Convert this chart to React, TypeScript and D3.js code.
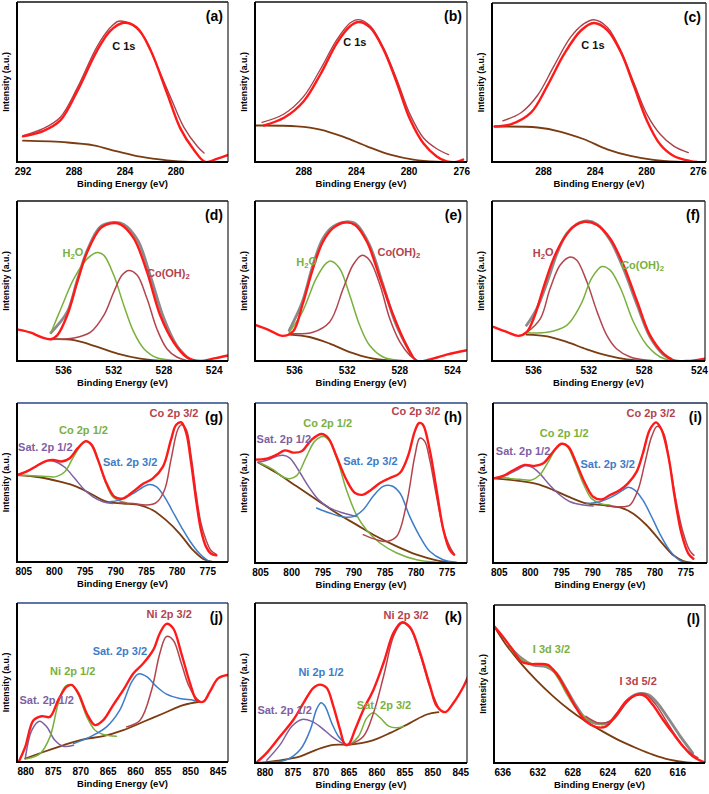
import * as d3 from "d3"

type Pt = [number, number]

// ---- data: [binding energy (eV), intensity as fraction of the plot height] ----

// (a) C 1s
const aFit: Pt[] = [[292.0,0.16],[290.38,0.195],[289.07,0.26],[287.76,0.44],[286.2,0.695],[285.15,0.82],[284.1,0.87],[283.06,0.84],[282.0,0.70],[280.7,0.43],[279.66,0.21],[278.6,0.077],[277.7,0.0],[276.8,0.02],[275.9,0.045]]
const aRaw: Pt[] = [[292.0,0.165],[290.38,0.21],[289.07,0.28],[287.76,0.46],[286.2,0.72],[285.15,0.84],[284.5,0.88],[283.6,0.865],[282.5,0.78],[281.5,0.605],[280.4,0.40],[279.4,0.22],[278.35,0.10],[277.8,0.056]]
const aBg: Pt[] = [[292.0,0.133],[288.5,0.122],[286.46,0.104],[284.6,0.066],[282.8,0.033],[280.7,0.01],[278.9,0.0],[277.8,0.0]]

// (b) C 1s
const bFit: Pt[] = [[291.03,0.228],[289.5,0.276],[288.0,0.38],[286.74,0.547],[285.47,0.745],[284.46,0.85],[283.83,0.875],[282.95,0.84],[281.94,0.703],[280.93,0.495],[279.92,0.265],[278.9,0.115],[277.9,0.035],[277.14,0.004],[276.4,0.0],[275.9,0.015]]
const bRaw: Pt[] = [[291.16,0.248],[289.5,0.30],[288.0,0.41],[286.74,0.578],[285.47,0.766],[284.46,0.87],[283.83,0.89],[282.95,0.85],[281.94,0.714],[280.93,0.516],[279.92,0.296],[278.9,0.15],[277.9,0.083],[277.0,0.046]]
const bBg: Pt[] = [[291.66,0.228],[288.5,0.223],[286.74,0.203],[284.97,0.157],[283.2,0.098],[281.43,0.046],[279.67,0.015],[277.9,0.002],[275.88,0.0]]

// (c) C 1s
const cFit: Pt[] = [[291.8,0.223],[290.5,0.238],[288.98,0.31],[287.7,0.48],[286.4,0.68],[285.1,0.827],[284.1,0.874],[283.06,0.83],[282.0,0.69],[281.0,0.48],[279.98,0.26],[278.95,0.11],[277.9,0.038],[276.6,0.006],[276.1,0.0]]
const cRaw: Pt[] = [[291.16,0.259],[289.75,0.31],[288.46,0.42],[287.18,0.606],[285.9,0.785],[284.86,0.87],[284.1,0.895],[283.06,0.848],[282.0,0.70],[281.0,0.50],[279.98,0.30],[278.95,0.175],[277.9,0.10],[276.77,0.059]]
const cBg: Pt[] = [[291.8,0.223],[288.46,0.217],[286.66,0.19],[284.86,0.143],[283.06,0.08],[281.26,0.038],[279.47,0.013],[277.67,0.002],[276.1,0.0]]

// (d) O 1s
const dFit: Pt[] = [[539.6,0.196],[538.6,0.177],[537.8,0.15],[537.0,0.136],[536.5,0.16],[535.7,0.286],[534.9,0.495],[534.1,0.683],[533.05,0.83],[532.25,0.86],[531.46,0.854],[530.4,0.766],[529.35,0.557],[528.3,0.286],[527.24,0.119],[526.2,0.025],[525.1,0.0],[524.1,0.015],[522.9,0.035]]
const dRaw: Pt[] = [[537.0,0.177],[535.7,0.307],[534.9,0.505],[534.1,0.693],[533.05,0.84],[532.0,0.866],[531.2,0.854],[530.1,0.756],[529.1,0.537],[528.0,0.265],[527.0,0.098],[526.05,0.015]]
const dH2O: Pt[] = [[537.0,0.177],[536.2,0.328],[535.16,0.516],[534.1,0.64],[533.3,0.678],[532.78,0.66],[532.0,0.537],[531.2,0.349],[530.4,0.18],[529.6,0.077],[528.56,0.02],[527.24,0.004],[526.2,0.0]]
const dCo: Pt[] = [[537.0,0.136],[535.16,0.144],[533.84,0.18],[532.78,0.286],[532.0,0.43],[531.33,0.537],[530.8,0.566],[530.14,0.537],[529.35,0.39],[528.56,0.2],[527.77,0.077],[526.98,0.025],[526.2,0.004]]
const dBg: Pt[] = [[537.0,0.136],[535.16,0.13],[533.3,0.088],[531.7,0.046],[529.9,0.015],[527.77,0.0],[526.2,0.0]]

// (e) O 1s
const eFit: Pt[] = [[539.05,0.228],[537.9,0.192],[536.9,0.157],[536.1,0.186],[535.4,0.35],[534.6,0.578],[533.84,0.745],[533.08,0.83],[532.2,0.866],[531.4,0.85],[530.5,0.745],[529.5,0.516],[528.5,0.286],[527.5,0.098],[526.7,0.0],[525.7,0.01],[524.45,0.04],[522.9,0.067]]
const eRaw: Pt[] = [[536.4,0.192],[535.4,0.37],[534.6,0.6],[533.84,0.766],[533.08,0.84],[532.06,0.87],[531.3,0.854],[530.3,0.724],[529.27,0.474],[528.26,0.223],[527.1,0.035]]
const eH2O: Pt[] = [[536.4,0.18],[535.4,0.307],[534.35,0.516],[533.6,0.61],[533.2,0.624],[532.57,0.578],[531.8,0.41],[531.05,0.223],[530.3,0.098],[529.27,0.025],[528.0,0.004],[527.1,0.0]]
const eCo: Pt[] = [[536.4,0.171],[534.6,0.18],[533.33,0.244],[532.3,0.453],[531.56,0.6],[530.9,0.66],[530.3,0.63],[529.5,0.474],[528.77,0.265],[528.0,0.119],[527.24,0.035],[526.7,0.004]]
const eBg: Pt[] = [[536.4,0.165],[534.86,0.15],[533.33,0.109],[531.8,0.056],[530.3,0.02],[528.77,0.004],[527.1,0.0]]

// (f) O 1s
const fFit: Pt[] = [[538.9,0.213],[537.9,0.18],[537.1,0.157],[536.5,0.18],[535.9,0.286],[535.3,0.453],[534.55,0.64],[533.8,0.766],[533.1,0.84],[532.3,0.87],[531.4,0.85],[530.46,0.766],[529.5,0.6],[528.5,0.37],[527.57,0.16],[526.6,0.046],[525.9,0.006],[524.9,0.0],[523.6,0.015]]
const fRaw: Pt[] = [[536.5,0.223],[535.76,0.328],[535.0,0.495],[534.3,0.672],[533.6,0.797],[532.9,0.854],[532.1,0.875],[531.4,0.854],[530.46,0.756],[529.5,0.578],[528.5,0.349],[527.57,0.15],[526.6,0.04],[526.1,0.015]]
const fH2O: Pt[] = [[536.5,0.177],[535.5,0.265],[534.8,0.453],[534.07,0.6],[533.35,0.65],[532.87,0.63],[532.14,0.495],[531.4,0.307],[530.7,0.16],[530.0,0.077],[529.0,0.025],[527.8,0.004],[526.4,0.0]]
const fCo: Pt[] = [[536.5,0.177],[535.0,0.18],[533.6,0.223],[532.6,0.349],[531.8,0.516],[531.06,0.59],[530.46,0.568],[529.7,0.453],[528.77,0.244],[527.8,0.098],[526.84,0.025],[526.1,0.004]]
const fBg: Pt[] = [[536.5,0.165],[535.0,0.154],[533.6,0.119],[532.14,0.073],[530.7,0.035],[529.25,0.01],[527.8,0.002],[526.4,0.0]]

// (g) Co 2p
const gFit: Pt[] = [[806.1,0.547],[804.57,0.568],[802.9,0.604],[801.3,0.636],[800.2,0.642],[798.87,0.632],[797.5,0.653],[796.2,0.716],[794.9,0.76],[794.0,0.74],[792.9,0.642],[791.5,0.495],[790.2,0.41],[788.8,0.40],[787.2,0.442],[785.6,0.49],[783.95,0.526],[782.3,0.6],[781.0,0.768],[780.15,0.863],[779.3,0.878],[778.5,0.81],[777.7,0.62],[776.9,0.39],[776.1,0.2],[775.27,0.095],[774.5,0.053],[773.6,0.042]]
const gSat1: Pt[] = [[806.1,0.547],[804.0,0.579],[802.4,0.617],[801.0,0.636],[799.95,0.632],[798.3,0.596],[796.7,0.526],[795.07,0.453],[793.7,0.41],[792.1,0.379],[790.5,0.368]]
const gCo1: Pt[] = [[805.65,0.547],[801.85,0.54],[799.7,0.537],[798.3,0.568],[797.0,0.653],[795.6,0.737],[794.8,0.758],[793.7,0.726],[792.6,0.61],[791.5,0.484],[790.5,0.41],[789.4,0.385],[788.3,0.373]]
const gSat3: Pt[] = [[791.0,0.379],[789.4,0.389],[787.2,0.43],[785.6,0.47],[784.5,0.488],[783.4,0.474],[782.05,0.41],[780.7,0.316],[779.3,0.22],[778.0,0.137],[776.35,0.053],[774.7,0.0]]
const gCo3: Pt[] = [[789.4,0.373],[787.2,0.368],[785.0,0.358],[783.4,0.373],[782.05,0.453],[781.0,0.642],[779.9,0.832],[779.3,0.863],[778.5,0.832],[777.7,0.663],[776.9,0.43],[776.1,0.242],[775.27,0.137],[774.5,0.074],[773.6,0.048]]
const gBg: Pt[] = [[806.1,0.547],[802.4,0.533],[799.1,0.505],[796.4,0.474],[793.7,0.421],[791.5,0.379],[788.8,0.368],[786.1,0.358],[783.95,0.326],[781.8,0.263],[779.6,0.179],[777.4,0.074],[775.8,0.021],[774.2,0.0]]

// (h) Co 2p
const hFit: Pt[] = [[805.9,0.646],[804.0,0.652],[802.4,0.677],[801.1,0.704],[799.75,0.69],[798.4,0.698],[796.8,0.77],[795.2,0.806],[794.1,0.78],[792.8,0.667],[791.2,0.52],[789.8,0.4375],[788.5,0.427],[787.2,0.458],[785.8,0.5],[784.2,0.531],[782.6,0.5625],[781.3,0.667],[780.2,0.823],[779.5,0.875],[778.9,0.865],[777.8,0.708],[776.7,0.458],[775.6,0.208],[774.6,0.083],[773.9,0.052]]
const hSat1: Pt[] = [[805.4,0.629],[804.0,0.642],[802.4,0.667],[801.4,0.673],[800.3,0.656],[798.95,0.583],[797.3,0.479],[795.7,0.396],[793.9,0.344],[791.7,0.3125],[789.6,0.29]]
const hCo1: Pt[] = [[805.1,0.625],[802.96,0.583],[801.4,0.5375],[800.3,0.527],[799.2,0.546],[797.6,0.667],[796.3,0.76],[794.9,0.79],[793.9,0.76],[792.5,0.625],[791.2,0.458],[789.6,0.302],[788.0,0.208],[785.8,0.125],[783.1,0.0625],[779.9,0.02],[776.7,0.004]]
const hSat3: Pt[] = [[796.0,0.344],[793.9,0.3125],[791.7,0.2875],[790.1,0.29],[788.5,0.333],[786.9,0.417],[785.3,0.479],[783.95,0.483],[782.6,0.4375],[781.0,0.29],[779.4,0.167],[777.8,0.073],[775.65,0.02],[773.5,0.004]]
const hCo3: Pt[] = [[788.5,0.177],[786.4,0.146],[784.75,0.135],[783.1,0.167],[781.5,0.375],[780.2,0.667],[779.4,0.78],[778.6,0.76],[777.8,0.646],[776.7,0.417],[775.6,0.208],[774.6,0.104],[773.8,0.052]]
const hBg: Pt[] = [[805.4,0.629],[802.4,0.5625],[799.2,0.479],[796.0,0.396],[792.8,0.3125],[789.6,0.24],[786.4,0.167],[783.1,0.104],[779.9,0.052],[776.7,0.017],[773.5,0.0]]

// (i) Co 2p
const iFit: Pt[] = [[805.96,0.529],[804.36,0.544],[802.75,0.58],[800.9,0.613],[799.3,0.607],[797.9,0.623],[796.3,0.697],[795.0,0.745],[793.9,0.728],[792.6,0.623],[791.2,0.498],[789.9,0.414],[788.55,0.397],[787.2,0.425],[785.6,0.456],[784.3,0.498],[782.9,0.571],[781.9,0.686],[780.8,0.833],[779.8,0.879],[778.9,0.833],[777.8,0.665],[776.8,0.414],[775.7,0.184],[774.6,0.059],[773.8,0.027]]
const iSat1: Pt[] = [[805.96,0.529],[803.8,0.55],[802.2,0.58],[800.9,0.607],[799.8,0.6],[798.5,0.56],[796.9,0.487],[795.25,0.425],[793.6,0.383],[791.5,0.362],[789.9,0.356]]
const iCo1: Pt[] = [[804.9,0.536],[801.7,0.523],[799.8,0.519],[798.5,0.55],[797.1,0.634],[795.8,0.718],[794.8,0.745],[793.9,0.718],[792.8,0.623],[791.5,0.498],[790.2,0.404],[788.8,0.372],[787.2,0.362]]
const iSat3: Pt[] = [[791.0,0.372],[788.8,0.383],[786.7,0.418],[785.1,0.456],[784.3,0.473],[783.2,0.456],[781.9,0.393],[780.5,0.289],[779.2,0.184],[777.6,0.079],[776.0,0.017],[774.4,0.0]]
const iCo3: Pt[] = [[787.75,0.356],[785.6,0.351],[784.0,0.362],[782.7,0.456],[781.6,0.623],[780.5,0.79],[779.6,0.854],[778.6,0.812],[777.6,0.623],[776.5,0.372],[775.4,0.184],[774.4,0.079],[773.7,0.048]]
const iBg: Pt[] = [[805.96,0.529],[802.2,0.515],[799.0,0.494],[796.3,0.456],[793.6,0.41],[791.0,0.372],[788.3,0.362],[785.6,0.347],[783.5,0.31],[781.3,0.236],[779.2,0.142],[777.0,0.048],[775.4,0.0126],[773.8,0.0]]

// (j) Ni 2p
const jFit: Pt[] = [[881.3,0.0],[880.1,0.095],[878.6,0.263],[877.1,0.288],[875.6,0.284],[874.1,0.389],[872.55,0.474],[871.6,0.484],[870.4,0.43],[868.9,0.305],[867.4,0.232],[865.9,0.263],[864.1,0.358],[862.25,0.453],[860.4,0.558],[858.6,0.621],[856.8,0.705],[855.6,0.81],[854.4,0.869],[853.2,0.842],[851.7,0.684],[850.1,0.495],[848.9,0.389],[847.7,0.379],[846.5,0.442],[845.0,0.526],[843.3,0.547]]
const jSat1: Pt[] = [[880.1,0.021],[878.9,0.2],[877.5,0.257],[876.2,0.221],[874.7,0.137],[873.2,0.099],[871.3,0.105]]
const jNi1: Pt[] = [[879.8,0.021],[877.4,0.053],[875.6,0.158],[874.1,0.368],[872.85,0.474],[871.6,0.484],[870.4,0.421],[868.9,0.284],[867.4,0.2],[865.9,0.173],[863.5,0.162]]
const jSat3: Pt[] = [[871.3,0.116],[868.3,0.158],[865.3,0.221],[862.9,0.326],[860.7,0.505],[859.5,0.554],[858.0,0.537],[856.2,0.474],[854.4,0.427],[852.0,0.4],[849.5,0.389],[848.3,0.379]]
const jNi3: Pt[] = [[861.65,0.221],[859.2,0.263],[857.1,0.453],[855.6,0.684],[854.4,0.789],[853.2,0.768],[851.7,0.621],[850.4,0.484],[849.2,0.41],[848.3,0.379]]
const jBg: Pt[] = [[880.1,0.021],[876.8,0.063],[873.2,0.105],[869.5,0.143],[865.9,0.162],[862.25,0.2],[858.6,0.253],[855.0,0.305],[851.35,0.358],[848.3,0.379]]

// (k) Ni 2p
const kFit: Pt[] = [[881.5,0.004],[879.7,0.063],[877.3,0.167],[874.9,0.272],[873.1,0.377],[871.35,0.47],[870.2,0.49],[869.0,0.47],[867.8,0.356],[866.6,0.209],[865.7,0.115],[865.1,0.115],[863.9,0.209],[862.4,0.335],[860.6,0.46],[858.8,0.628],[857.0,0.816],[855.55,0.879],[854.05,0.847],[852.3,0.69],[850.5,0.48],[849.3,0.356],[847.8,0.318],[846.3,0.377],[844.5,0.48],[843.8,0.533]]
const kSat1: Pt[] = [[879.7,0.017],[877.3,0.115],[875.2,0.23],[873.4,0.272],[871.65,0.26],[869.9,0.22],[868.1,0.167],[866.3,0.126],[865.4,0.115]]
const kNi1: Pt[] = [[879.1,0.004],[876.1,0.021],[873.7,0.084],[871.9,0.209],[870.8,0.335],[870.0,0.377],[869.3,0.356],[868.1,0.251],[866.9,0.167],[865.7,0.121]]
const kSat3: Pt[] = [[864.8,0.115],[863.3,0.167],[861.8,0.282],[860.7,0.314],[859.4,0.282],[857.9,0.23],[856.45,0.22],[855.25,0.23]]
const kNi3: Pt[] = [[864.8,0.115],[862.4,0.167],[860.6,0.314],[858.8,0.544],[857.0,0.795],[855.55,0.874],[854.05,0.841],[852.3,0.68],[850.5,0.47],[849.0,0.345]]
const kBg: Pt[] = [[881.5,0.0],[877.3,0.017],[873.7,0.042],[870.75,0.084],[867.8,0.113],[864.8,0.115],[861.2,0.136],[857.6,0.188],[854.05,0.251],[851.1,0.303],[849.0,0.318]]

// (l) I 3d
const lFit: Pt[] = [[636.95,0.863],[636.0,0.8],[634.86,0.716],[633.9,0.642],[632.95,0.627],[631.8,0.627],[630.86,0.621],[629.9,0.568],[628.76,0.463],[627.6,0.347],[626.5,0.263],[625.3,0.227],[624.2,0.232],[623.05,0.305],[621.9,0.39],[620.76,0.43],[619.8,0.425],[618.86,0.368],[617.7,0.274],[616.57,0.189],[615.4,0.105],[614.3,0.042],[612.95,0.004]]
const lRaw: Pt[] = [[635.24,0.737],[634.1,0.674],[632.6,0.621],[631.05,0.61],[629.9,0.57],[628.76,0.47],[627.6,0.36],[626.5,0.28],[625.0,0.248],[623.8,0.26],[622.7,0.33],[621.5,0.41],[620.3,0.44],[619.3,0.43],[618.2,0.37],[617.0,0.275],[615.8,0.175],[614.3,0.063]]
const lI3: Pt[] = [[635.24,0.733],[634.1,0.663],[632.95,0.632],[631.6,0.621],[630.7,0.606],[629.7,0.537],[628.76,0.442],[627.8,0.358],[626.86,0.3],[625.7,0.263],[624.6,0.242]]
const lI5: Pt[] = [[626.5,0.295],[625.0,0.253],[623.4,0.274],[621.9,0.379],[620.76,0.432],[619.8,0.438],[618.5,0.368],[617.3,0.263],[616.2,0.168],[615.0,0.084],[613.7,0.032]]
const lBg: Pt[] = [[636.95,0.863],[635.6,0.747],[634.1,0.642],[632.2,0.526],[630.3,0.425],[628.4,0.337],[626.5,0.263],[624.6,0.2],[622.7,0.143],[620.76,0.095],[618.86,0.053],[616.95,0.021],[615.0,0.004],[613.1,0.0]]

// tick labels
const ticksA = [292, 288, 284, 280]
const ticksBC = [288, 284, 280, 276]
const ticksO = [536, 532, 528, 524]
const ticksCo = [805, 800, 795, 790, 785, 780, 775]
const ticksNi = [880, 875, 870, 865, 860, 855, 850, 845]
const ticksI = [636, 632, 628, 624, 620, 616]

// ---- styling ----
const FONT = "'Liberation Sans', Arial, Helvetica, sans-serif"
const RED = "#ff1a1a"
const RAWRED = "#a8434b"
const GREY = "#8a8a8a"
const BROWN = "#7a3c10"
const GREEN = "#7ab03e"
const DRED = "#b3444d"
const PURPLE = "#7e60a2"
const BLUE = "#3d7cc8"
const NAVY = "#27488a"

type Curve = { data: Pt[]; color: string; width: number }
type Label = { text: string; at: Pt; color: string }
type PanelDef = {
  letter: string
  box: [number, number, number, number]
  domain: [number, number]
  ticks: number[]
  curves: Curve[]
  labels: Label[]
  top?: string
}

const fit = (data: Pt[]): Curve => ({ data, color: RED, width: 2.4 })
const raw = (data: Pt[]): Curve => ({ data, color: GREY, width: 2.8 })
const rawRed = (data: Pt[]): Curve => ({ data, color: RAWRED, width: 1.4 })
const bg = (data: Pt[]): Curve => ({ data, color: BROWN, width: 1.8 })
const comp = (data: Pt[], color: string): Curve => ({ data, color, width: 1.5 })

const panels: PanelDef[] = [
  { letter: "a", box: [17, 2, 228, 162], domain: [292.47, 275.92], ticks: ticksA,
    curves: [bg(aBg), rawRed(aRaw), fit(aFit)],
    labels: [{ text: "C 1s", at: [285.0, 0.703], color: "#111" }] },
  { letter: "b", box: [255, 2, 467, 162], domain: [291.7, 275.6], ticks: ticksBC,
    curves: [bg(bBg), rawRed(bRaw), fit(bFit)],
    labels: [{ text: "C 1s", at: [285.0, 0.724], color: "#111" }] },
  { letter: "c", box: [492, 3, 706, 162], domain: [292.0, 275.4], ticks: ticksBC,
    curves: [bg(cBg), rawRed(cRaw), fit(cFit)],
    labels: [{ text: "C 1s", at: [285.07, 0.71], color: "#111" }] },
  { letter: "d", box: [17, 201, 228, 361], domain: [539.7, 522.9], ticks: ticksO,
    curves: [raw(dRaw), bg(dBg), comp(dH2O, GREEN), comp(dCo, DRED), fit(dFit)],
    labels: [{ text: "H_2O", at: [536.08, 0.651], color: GREEN }, { text: "Co(OH)_2", at: [529.35, 0.526], color: DRED }] },
  { letter: "e", box: [255, 201, 467, 361], domain: [539.0, 522.9], ticks: ticksO,
    curves: [raw(eRaw), bg(eBg), comp(eH2O, GREEN), comp(eCo, DRED), fit(eFit)],
    labels: [{ text: "H_2O", at: [535.87, 0.595], color: GREEN }, { text: "Co(OH)_2", at: [529.7, 0.656], color: DRED }] },
  { letter: "f", box: [492, 201, 705, 361], domain: [539.0, 523.6], ticks: ticksO,
    curves: [raw(fRaw), bg(fBg), comp(fH2O, DRED), comp(fCo, GREEN), fit(fFit)],
    labels: [{ text: "H_2O", at: [536.05, 0.651], color: DRED }, { text: "Co(OH)_2", at: [529.66, 0.578], color: GREEN }] },
  { letter: "g", box: [17, 403, 228, 562], domain: [806.1, 771.7], ticks: ticksCo, top: NAVY,
    curves: [bg(gBg), comp(gSat1, PURPLE), comp(gCo1, GREEN), comp(gSat3, BLUE), comp(gCo3, DRED), fit(gFit)],
    labels: [
      { text: "Sat. 2p 1/2", at: [805.92, 0.695], color: PURPLE },
      { text: "Co 2p 1/2", at: [799.25, 0.804], color: GREEN },
      { text: "Sat. 2p 3/2", at: [792.09, 0.604], color: BLUE },
      { text: "Co 2p 3/2", at: [784.49, 0.912], color: DRED },
    ] },
  { letter: "h", box: [255, 403, 467, 563], domain: [805.9, 771.8], ticks: ticksCo, top: NAVY,
    curves: [bg(hBg), comp(hSat1, PURPLE), comp(hCo1, GREEN), comp(hSat3, BLUE), comp(hCo3, DRED), fit(hFit)],
    labels: [
      { text: "Sat. 2p 1/2", at: [805.64, 0.75], color: PURPLE },
      { text: "Co 2p 1/2", at: [798.14, 0.85], color: GREEN },
      { text: "Sat. 2p 3/2", at: [791.72, 0.615], color: BLUE },
      { text: "Co 2p 3/2", at: [783.95, 0.927], color: DRED },
    ] },
  { letter: "i", box: [493, 403, 707, 563], domain: [806.0, 771.6], ticks: ticksCo, top: "#1c2f55",
    curves: [bg(iBg), comp(iSat1, PURPLE), comp(iCo1, GREEN), comp(iSat3, BLUE), comp(iCo3, DRED), fit(iFit)],
    labels: [
      { text: "Sat. 2p 1/2", at: [805.54, 0.676], color: PURPLE },
      { text: "Co 2p 1/2", at: [798.47, 0.79], color: GREEN },
      { text: "Sat. 2p 3/2", at: [791.93, 0.592], color: BLUE },
      { text: "Co 2p 3/2", at: [784.54, 0.91], color: DRED },
    ] },
  { letter: "j", box: [17, 603, 228, 762], domain: [881.6, 843.2], ticks: ticksNi, top: NAVY,
    curves: [bg(jBg), comp(jSat1, PURPLE), comp(jNi1, GREEN), comp(jSat3, BLUE), comp(jNi3, DRED), fit(jFit)],
    labels: [
      { text: "Sat. 2p 1/2", at: [881.15, 0.362], color: PURPLE },
      { text: "Ni 2p 1/2", at: [875.58, 0.547], color: GREEN },
      { text: "Sat. 2p 3/2", at: [867.83, 0.674], color: BLUE },
      { text: "Ni 2p 3/2", at: [858.01, 0.905], color: DRED },
    ] },
  { letter: "k", box: [255, 603, 467, 763], domain: [881.8, 843.9], ticks: ticksNi,
    curves: [bg(kBg), comp(kSat1, PURPLE), comp(kNi1, BLUE), comp(kSat3, GREEN), comp(kNi3, DRED), fit(kFit)],
    labels: [
      { text: "Sat. 2p 1/2", at: [881.37, 0.3075], color: PURPLE },
      { text: "Ni 2p 1/2", at: [874.04, 0.544], color: BLUE },
      { text: "Sat. 2p 3/2", at: [863.6, 0.335], color: GREEN },
      { text: "Ni 2p 3/2", at: [858.83, 0.9], color: DRED },
    ] },
  { letter: "l", box: [494, 605, 705, 763], domain: [637.0, 612.9], ticks: ticksI,
    curves: [raw(lRaw), bg(lBg), comp(lI3, GREEN), comp(lI5, DRED), fit(lFit)],
    labels: [
      { text: "I 3d 3/2", at: [632.57, 0.699], color: GREEN },
      { text: "I 3d 5/2", at: [622.67, 0.495], color: DRED },
    ] },
]

// "H_2O" -> H, subscript 2, O
function LabelText({ text }: { text: string }) {
  const parts = text.split("_")
  return (
    <>
      {parts.map((p, i) =>
        i === 0 ? (
          <tspan key={i}>{p}</tspan>
        ) : (
          <tspan key={i}>
            <tspan fontSize="0.7em" dy="0.3em">{p[0]}</tspan>
            <tspan dy="-0.3em">{p.slice(1)}</tspan>
          </tspan>
        )
      )}
    </>
  )
}

function Panel({ p }: { p: PanelDef }) {
  const [l, t, r, b] = p.box
  const x = d3.scaleLinear().domain(p.domain).range([l, r])
  const y = d3.scaleLinear().domain([0, 1]).range([b, t])
  const line = d3.line<Pt>()
    .x(d => x(d[0]))
    .y(d => y(d[1]))
    .curve(d3.curveCatmullRom.alpha(0.5))
  const clipId = `clip-${p.letter}`

  return (
    <g fontFamily={FONT}>
      <defs>
        <clipPath id={clipId}>
          <rect x={l} y={t} width={r - l} height={b - t} />
        </clipPath>
      </defs>

      <g clipPath={`url(#${clipId})`}>
        {p.curves.map((c, i) => (
          <path key={i} d={line(c.data) ?? ""} fill="none" stroke={c.color}
            strokeWidth={c.width} strokeLinejoin="round" strokeLinecap="round" />
        ))}
      </g>

      {/* frame */}
      <line x1={l} x2={r} y1={t} y2={t} stroke={p.top ?? "#111"} strokeWidth={1.4} />
      <line x1={r} x2={r} y1={t} y2={b} stroke="#222" strokeWidth={1.2} />
      <line x1={l} x2={l} y1={t} y2={b + 1} stroke="#000" strokeWidth={2} />
      <line x1={l - 1} x2={r} y1={b} y2={b} stroke="#000" strokeWidth={2} />

      {p.ticks.map(v => (
        <text key={v} x={x(v)} y={b + 13} textAnchor="middle" fontSize={10}
          fontWeight="bold" fill="#000">{v}</text>
      ))}

      <text x={(l + r) / 2} y={b + 24.5} textAnchor="middle" fontSize={9.5}
        fontWeight="bold" fill="#000">Binding Energy (eV)</text>

      <text transform={`translate(${l - 8.5},${(t + b) / 2}) rotate(-90)`} textAnchor="middle"
        fontSize={8.8} fontWeight="bold" fill="#000">Intensity (a.u.)</text>

      <text x={r - 5} y={t + 19} textAnchor="end" fontSize={14} fontWeight="bold"
        fill="#000">({p.letter})</text>

      {p.labels.map((lb, i) => (
        <text key={i} x={x(lb.at[0])} y={y(lb.at[1])} fontSize={11} fontWeight="bold"
          fill={lb.color}>
          <LabelText text={lb.text} />
        </text>
      ))}
    </g>
  )
}

export default function App() {
  return (
    <svg width={709} height={794} viewBox="0 0 709 794"
      style={{ position: "absolute", left: 0, top: 0, background: "#fff" }}>
      <rect width={709} height={794} fill="#fff" />
      {panels.map(p => <Panel key={p.letter} p={p} />)}
    </svg>
  )
}
